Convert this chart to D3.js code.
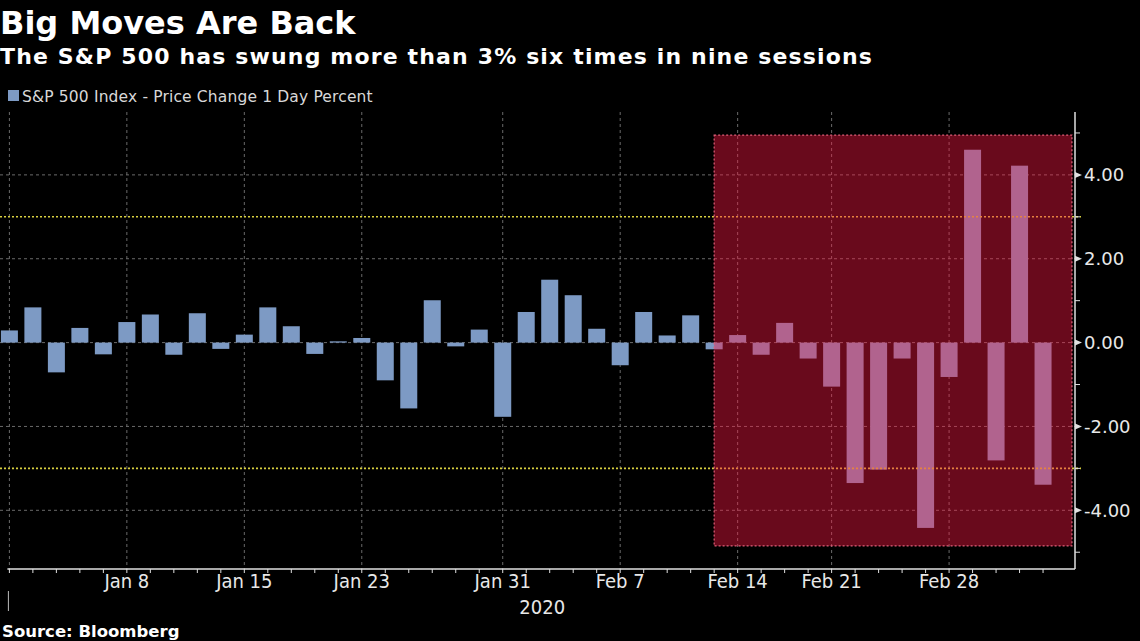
<!DOCTYPE html>
<html>
<head>
<meta charset="utf-8">
<script src="https://cdn.jsdelivr.net/npm/d3@7"></script>
<style>
  html, body { margin: 0; padding: 0; background: #000; }
  svg { display: block; }
  .title { font-family: "DejaVu Sans", Verdana, sans-serif; font-weight: bold; fill: #fff; }
  .narrow { font-family: "Liberation Sans Narrow", "DejaVu Sans Condensed", sans-serif; }
</style>
</head>
<body>
<div id="chart"></div>
<script>
// trading days shown on the chart
const dates = [
    "2019-12-31",
    "2020-01-02", "2020-01-03", "2020-01-06", "2020-01-07", "2020-01-08", "2020-01-09", "2020-01-10",
    "2020-01-13", "2020-01-14", "2020-01-15", "2020-01-16", "2020-01-17",
    "2020-01-21", "2020-01-22", "2020-01-23", "2020-01-24",
    "2020-01-27", "2020-01-28", "2020-01-29", "2020-01-30", "2020-01-31",
    "2020-02-03", "2020-02-04", "2020-02-05", "2020-02-06", "2020-02-07",
    "2020-02-10", "2020-02-11", "2020-02-12", "2020-02-13", "2020-02-14",
    "2020-02-18", "2020-02-19", "2020-02-20", "2020-02-21",
    "2020-02-24", "2020-02-25", "2020-02-26", "2020-02-27", "2020-02-28",
    "2020-03-02", "2020-03-03", "2020-03-04", "2020-03-05"
];

// S&P 500 daily % change
const changes = [
    0.29,
    0.84, -0.71, 0.35, -0.28, 0.49, 0.67, -0.29,
    0.70, -0.15, 0.19, 0.84, 0.39,
    -0.27, 0.03, 0.11, -0.90,
    -1.57, 1.01, -0.09, 0.31, -1.77,
    0.73, 1.50, 1.13, 0.33, -0.54,
    0.73, 0.17, 0.65, -0.16, 0.18,
    -0.29, 0.47, -0.38, -1.05,
    -3.35, -3.03, -0.38, -4.42, -0.82,
    4.60, -2.81, 4.22, -3.39
];

const yTicks = [-4, -2, 0, 2, 4];
const yMinorTicks = [-5, -3, -1, 1, 3, 5];
const xLabels = [
    {date: "2020-01-08", label: "Jan 8"},
    {date: "2020-01-15", label: "Jan 15"},
    {date: "2020-01-23", label: "Jan 23"},
    {date: "2020-01-31", label: "Jan 31"},
    {date: "2020-02-07", label: "Feb 7"},
    {date: "2020-02-14", label: "Feb 14"},
    {date: "2020-02-21", label: "Feb 21"},
    {date: "2020-02-28", label: "Feb 28"}
];
const thresholds = [3, -3];
// shaded window (start date, value range)
const highlightFrom = "2020-02-13";
const highlightRange = [-4.85, 4.95];

const width = 1140, height = 641;
const plot = {left: 0, right: 1075, top: 112, bottom: 569};

const svg = d3.select("#chart").append("svg")
    .attr("width", width)
    .attr("height", height);

svg.append("rect").attr("width", width).attr("height", height).attr("fill", "#000");

const data = dates.map((d, i) => ({date: d, i: i, value: changes[i]}));
const idx = d => dates.indexOf(d);

const x = d3.scaleLinear()
    .domain([-0.4, dates.length + 0.36])
    .range([plot.left, plot.right]);

const y = d3.scaleLinear()
    .domain([-5.4, 5.5])
    .range([plot.bottom, plot.top]);

// titles
svg.append("text").attr("class", "title")
    .attr("x", 0).attr("y", 34)
    .style("font-size", "32px")
    .text("Big Moves Are Back");

svg.append("text").attr("class", "title")
    .attr("x", 0).attr("y", 64)
    .style("font-size", "22px")
    .style("letter-spacing", "1.15px")
    .text("The S&P 500 has swung more than 3% six times in nine sessions");

// legend
svg.append("rect")
    .attr("x", 8).attr("y", 90)
    .attr("width", 11).attr("height", 11)
    .attr("fill", "#7d9ac4");

svg.append("text")
    .attr("x", 22).attr("y", 102)
    .style("font-family", "'DejaVu Sans', Verdana, sans-serif")
    .style("font-size", "15.5px")
    .style("letter-spacing", "0.15px")
    .attr("fill", "#d8d8d8")
    .text("S&P 500 Index - Price Change 1 Day Percent");

// grid
const grid = svg.append("g").attr("class", "grid");

grid.selectAll(".hgrid")
    .data(yTicks)
    .join("line")
    .attr("x1", plot.left).attr("x2", plot.right)
    .attr("y1", d => y(d)).attr("y2", d => y(d))
    .attr("stroke", "#6a6a6a")
    .attr("stroke-width", 1)
    .attr("stroke-dasharray", "3,3");

const vgridDates = ["2019-12-31"].concat(xLabels.map(d => d.date));
grid.selectAll(".vgrid")
    .data(vgridDates)
    .join("line")
    .attr("x1", d => x(idx(d))).attr("x2", d => x(idx(d)))
    .attr("y1", plot.top).attr("y2", plot.bottom)
    .attr("stroke", "#6a6a6a")
    .attr("stroke-width", 1)
    .attr("stroke-dasharray", "3,3");

// bars
const barWidth = 17;
svg.append("g")
    .selectAll("rect")
    .data(data)
    .join("rect")
    .attr("x", d => x(d.i) - barWidth / 2)
    .attr("width", barWidth)
    .attr("y", d => y(Math.max(0, d.value)))
    .attr("height", d => Math.max(1, Math.abs(y(d.value) - y(0))))
    .attr("fill", "#7d9ac4");

// +/-3% lines
svg.append("g")
    .selectAll("line")
    .data(thresholds)
    .join("line")
    .attr("x1", plot.left).attr("x2", plot.right + 6)
    .attr("y1", d => y(d)).attr("y2", d => y(d))
    .attr("stroke", "#d8d040")
    .attr("stroke-width", 1.6)
    .attr("stroke-dasharray", "2,2");

// highlighted window overlay
const hx0 = x(idx(highlightFrom));
const hx1 = x(dates.length + 0.23);
svg.append("rect")
    .attr("x", hx0)
    .attr("y", y(highlightRange[1]))
    .attr("width", hx1 - hx0)
    .attr("height", y(highlightRange[0]) - y(highlightRange[1]))
    .attr("fill", "rgb(250,24,66)")
    .attr("fill-opacity", 0.42)
    .attr("stroke", "#e0607a")
    .attr("stroke-width", 1.2)
    .attr("stroke-dasharray", "2,2");

// y axis
const yAxis = svg.append("g").attr("transform", `translate(${plot.right},0)`);
yAxis.append("line")
    .attr("x1", 0).attr("x2", 0)
    .attr("y1", plot.top).attr("y2", plot.bottom)
    .attr("stroke", "#e0e0e0").attr("stroke-width", 1.5);

yAxis.selectAll(".minor")
    .data(yMinorTicks)
    .join("line")
    .attr("x1", 0).attr("x2", 5)
    .attr("y1", d => y(d)).attr("y2", d => y(d))
    .attr("stroke", "#e0e0e0");

yAxis.selectAll(".major")
    .data(yTicks)
    .join("path")
    .attr("d", d => `M0,${y(d) - 3}L7,${y(d)}L0,${y(d) + 3}Z`)
    .attr("fill", "#e0e0e0");

yAxis.selectAll("text")
    .data(yTicks)
    .join("text")
    .attr("x", 9)
    .attr("y", d => y(d))
    .attr("dy", "0.36em")
    .style("font-family", "'DejaVu Sans', Verdana, sans-serif")
    .style("font-size", "18px")
    .attr("fill", "#e8e8e8")
    .text(d => d3.format(".2f")(d).replace("−", "-"));

// x axis
const xAxis = svg.append("g").attr("transform", `translate(0,${plot.bottom})`);
xAxis.append("line")
    .attr("x1", x(0) - 2).attr("x2", plot.right)
    .attr("stroke", "#e0e0e0").attr("stroke-width", 1.5);

xAxis.selectAll(".tick")
    .data(data)
    .join("line")
    .attr("x1", d => x(d.i)).attr("x2", d => x(d.i))
    .attr("y1", 0).attr("y2", 4)
    .attr("stroke", "#e0e0e0");

xAxis.selectAll("text")
    .data(xLabels)
    .join("text")
    .attr("class", "narrow")
    .attr("x", d => x(idx(d.date)))
    .attr("y", 19)
    .attr("text-anchor", "middle")
    .style("font-size", "20px")
    .attr("fill", "#e8e8e8")
    .text(d => d.label);

xAxis.append("line")
    .attr("x1", x(0) - 1).attr("x2", x(0) - 1)
    .attr("y1", 22).attr("y2", 42)
    .attr("stroke", "#bbbbbb");

xAxis.append("text")
    .attr("class", "narrow")
    .attr("x", (x(0) + plot.right) / 2)
    .attr("y", 45)
    .attr("text-anchor", "middle")
    .style("font-size", "20px")
    .attr("fill", "#e8e8e8")
    .text("2020");

// source
svg.append("text").attr("class", "title")
    .attr("x", 2).attr("y", 637)
    .style("font-size", "16.5px")
    .text("Source: Bloomberg");
</script>
</body>
</html>
